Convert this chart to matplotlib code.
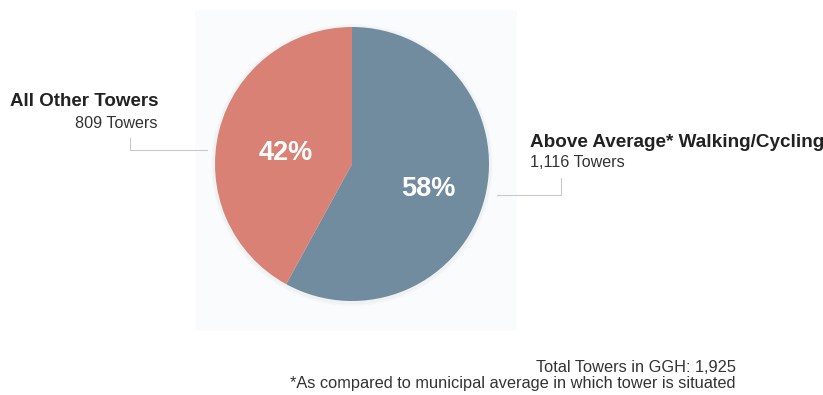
import matplotlib.pyplot as plt
from matplotlib.patches import Rectangle

plt.rcParams['font.family'] = ['Liberation Sans', 'DejaVu Sans']

# ------------------------------------------------------------
# Data
# ------------------------------------------------------------
labels = ['Above Average* Walking/Cycling', 'All Other Towers']
towers = [1116, 809]
colors = ['#718b9f', '#d98174']
total = sum(towers)

W, H = 823, 395

fig = plt.figure(figsize=(W / 100, H / 100), dpi=100)
ax = fig.add_axes([0, 0, 1, 1])

def Y(y):
    # image pixel row -> data y
    return H - y

# faint panel behind the pie
ax.add_patch(Rectangle((195, Y(331)), 322, 321, facecolor='#fafbfd',
                       edgecolor='none', zorder=0))

# soft shadow round the pie
for r, a in [(141, 0.03), (139.5, 0.05)]:
    ax.add_patch(plt.Circle((352, Y(165)), r, color='#8a8a8a', alpha=a,
                            lw=0, zorder=1))

wedges, texts, autotexts = ax.pie(
    towers, colors=colors, startangle=90, counterclock=False,
    center=(352, Y(164)), radius=137, autopct='%.0f%%', pctdistance=0.54,
    wedgeprops=dict(linewidth=0), frame=True,
    textprops=dict(color='white', fontsize=19.5, fontweight='bold'))
for w in wedges:
    w.set_zorder(2)
for t in autotexts:
    t.set_zorder(3)
    x, y = t.get_position()
    t.set_position((x + 5, y - 7))

ax.set_xlim(0, W)
ax.set_ylim(0, H)
ax.set_aspect('equal')
ax.axis('off')

# labels
ax.text(10, Y(106), labels[1], fontsize=13.5, fontweight='bold',
        color='#222222', ha='left', va='baseline')
ax.text(158, Y(128), f'{towers[1]:,} Towers', fontsize=11.6,
        color='#333333', ha='right', va='baseline')
ax.text(530, Y(147), labels[0], fontsize=13.55, fontweight='bold',
        color='#222222', ha='left', va='baseline')
ax.text(530, Y(167), f'{towers[0]:,} Towers', fontsize=11.6,
        color='#333333', ha='left', va='baseline')

# leader lines
lc = '#c9c9c9'
ax.plot([130, 130, 207], [Y(138), Y(150), Y(150)], color=lc, lw=0.8, zorder=1)
ax.plot([497, 561, 561], [Y(195), Y(195), Y(178)], color=lc, lw=0.8, zorder=1)

# footer
ax.text(736, Y(372), f'Total Towers in GGH: {total:,}', fontsize=11.8,
        color='#333333', ha='right', va='baseline')
ax.text(736, Y(388), '*As compared to municipal average in which tower is situated',
        fontsize=11.8, color='#333333', ha='right', va='baseline')

fig.savefig('out.png', dpi=100)
